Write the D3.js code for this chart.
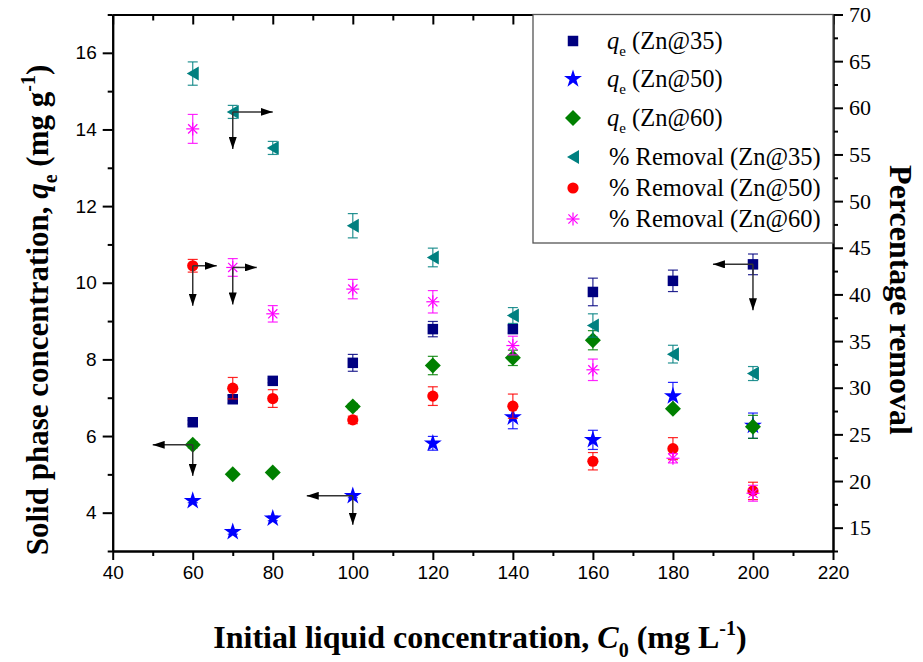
<!DOCTYPE html>
<html><head><meta charset="utf-8">
<script src="https://cdn.jsdelivr.net/npm/d3@7"></script>
<style>body{margin:0;background:#fff} .serif{font-family:'Liberation Serif','Times New Roman',serif} .sans{font-family:'Liberation Sans',Arial,sans-serif}</style>
</head><body>
<svg id="chart" width="923" height="662"></svg>
<script>
// ---------- data ----------
const concentrations = [60, 70, 80, 100, 120, 140, 160, 180, 200];
const qeZn35 = [6.36, 6.96, 7.44, 7.91, 8.79, 8.79, 9.76, 10.05, 10.48];
const qeZn35Err = [0.05, 0.1, 0.05, 0.22, 0.2, 0.1, 0.36, 0.28, 0.27];
const qeZn50 = [4.31, 3.50, 3.85, 4.44, 5.81, 6.49, 5.90, 7.04, 6.27];
const qeZn50Err = [0.05, 0.06, 0.06, 0.05, 0.18, 0.3, 0.25, 0.36, 0.33];
const qeZn60 = [5.77, 5.00, 5.05, 6.77, 7.84, 8.04, 8.50, 6.71, 6.24];
const qeZn60Err = [0.08, 0.03, 0.03, 0.08, 0.24, 0.2, 0.25, 0.05, 0.3];
const remZn35 = [63.67, 59.56, 55.7, 47.36, 43.96, 37.74, 36.67, 33.6, 31.52];
const remZn35Err = [1.25, 0.7, 0.7, 1.3, 1.0, 0.85, 1.25, 0.95, 0.75];
const remZn50 = [43.07, 29.95, 28.84, 26.55, 29.1, 28.02, 22.12, 23.47, 18.94];
const remZn50Err = [0.68, 1.15, 0.95, 0.4, 1.0, 1.3, 0.93, 1.18, 0.93];
const remZn60 = [57.74, 42.89, 37.92, 40.57, 39.21, 34.52, 31.92, 22.44, 18.69];
const remZn60Err = [1.55, 0.95, 0.88, 1.04, 1.2, 1.0, 1.15, 0.5, 0.85];

const xTicks = [40, 60, 80, 100, 120, 140, 160, 180, 200, 220];
const xMinorTicks = [50, 70, 90, 110, 130, 150, 170, 190, 210];
const leftTicks = [4, 6, 8, 10, 12, 14, 16];
const leftMinorTicks = [3, 5, 7, 9, 11, 13, 15, 17];
const rightTicks = [15, 20, 25, 30, 35, 40, 45, 50, 55, 60, 65, 70];
const rightMinorTicks = [12.5, 17.5, 22.5, 27.5, 32.5, 37.5, 42.5, 47.5, 52.5, 57.5, 62.5, 67.5];

// arrow annotations (series key, x value, horizontal reach in x units)
const arrowSeries = ['rem50', 'rem60', 'qe60', 'qe50', 'rem35', 'qe35'];
const arrowX = [60, 70, 60, 100, 70, 200];
const arrowReach = [6, 6, -10, -11.5, 10, -10];

// ---------- setup ----------
const svg = d3.select('#chart');
const L = 112.7, R = 833, T = 14.5, B = 551;
const x = d3.scaleLinear().domain([40, 220]).range([L, R]);
const yL = d3.scaleLinear().domain([3, 17]).range([B, T]);
const yR = d3.scaleLinear().domain([12.5, 70]).range([B, T]);
const arrowDrop = [40, 37, 31, 29, 37, 46];

const series = [
  {key: 'qe35', label: 'Zn@35', qe: true, vals: qeZn35, err: qeZn35Err, y: yL, color: '#000080', shape: 'square'},
  {key: 'qe50', label: 'Zn@50', qe: true, vals: qeZn50, err: qeZn50Err, y: yL, color: '#0000ff', shape: 'star'},
  {key: 'qe60', label: 'Zn@60', qe: true, vals: qeZn60, err: qeZn60Err, y: yL, color: '#008000', shape: 'diamond'},
  {key: 'rem35', label: 'Zn@35', qe: false, vals: remZn35, err: remZn35Err, y: yR, color: '#008080', shape: 'tri'},
  {key: 'rem50', label: 'Zn@50', qe: false, vals: remZn50, err: remZn50Err, y: yR, color: '#ff0000', shape: 'circle'},
  {key: 'rem60', label: 'Zn@60', qe: false, vals: remZn60, err: remZn60Err, y: yR, color: '#ff00ff', shape: 'asterisk'}
];

function drawSymbol(g, shape, color) {
  if (shape === 'square') g.append('path').attr('d', d3.symbol(d3.symbolSquare, 110)()).attr('fill', color);
  else if (shape === 'star') g.append('path').attr('d', d3.symbol(d3.symbolStar, 100)()).attr('fill', color);
  else if (shape === 'diamond') g.append('path').attr('d', 'M0,-8L8,0L0,8L-8,0Z').attr('fill', color);
  else if (shape === 'tri') g.append('path').attr('d', 'M-6,0L6,-7L6,7Z').attr('fill', color);
  else if (shape === 'circle') g.append('circle').attr('r', 5.6).attr('fill', color);
  else if (shape === 'asterisk') {
    const r = 6.5;
    [0, 45, 90, 135].forEach(a => {
      const c = Math.cos(a * Math.PI / 180) * r, s = Math.sin(a * Math.PI / 180) * r;
      g.append('line').attr('x1', -c).attr('y1', -s).attr('x2', c).attr('y2', s)
        .attr('stroke', color).attr('stroke-width', 1.2);
    });
  }
}

// ---------- axes ----------
function styleAxis(g) {
  g.attr('font-family', null);
  g.selectAll('path.domain').attr('stroke', '#000').attr('stroke-width', 2);
  g.selectAll('.tick line').attr('stroke', '#000').attr('stroke-width', 2);
}

// bottom
svg.append('g').attr('transform', `translate(0,${B})`)
  .call(d3.axisBottom(x).tickValues(xTicks).tickSize(9).tickSizeOuter(0).tickPadding(6).tickFormat(d3.format('d')))
  .call(styleAxis)
  .call(g => g.selectAll('text').attr('class', 'sans').attr('font-size', 19).attr('fill', '#000'));
svg.append('g').attr('transform', `translate(0,${B})`)
  .call(d3.axisBottom(x).tickValues(xMinorTicks).tickSize(5).tickSizeOuter(0).tickFormat(''))
  .call(styleAxis);
// top (inward)
svg.append('g').attr('transform', `translate(0,${T})`)
  .call(d3.axisBottom(x).tickValues(xTicks).tickSize(10).tickSizeOuter(0).tickFormat(''))
  .call(styleAxis);
svg.append('g').attr('transform', `translate(0,${T})`)
  .call(d3.axisBottom(x).tickValues(xMinorTicks).tickSize(6).tickSizeOuter(0).tickFormat(''))
  .call(styleAxis);
// left
svg.append('g').attr('transform', `translate(${L},0)`)
  .call(d3.axisLeft(yL).tickValues(leftTicks).tickSize(10).tickSizeOuter(0).tickPadding(6).tickFormat(d3.format('d')))
  .call(styleAxis)
  .call(g => g.selectAll('text').attr('class', 'sans').attr('font-size', 19).attr('fill', '#000'));
svg.append('g').attr('transform', `translate(${L},0)`)
  .call(d3.axisLeft(yL).tickValues(leftMinorTicks).tickSize(5).tickSizeOuter(0).tickFormat(''))
  .call(styleAxis);
// right
svg.append('g').attr('transform', `translate(${R},0)`)
  .call(d3.axisRight(yR).tickValues(rightTicks).tickSize(10).tickSizeOuter(0).tickPadding(6).tickFormat(d3.format('d')))
  .call(styleAxis)
  .call(g => g.selectAll('text').attr('class', 'serif').attr('font-size', 22).attr('fill', '#000'));
svg.append('g').attr('transform', `translate(${R},0)`)
  .call(d3.axisRight(yR).tickValues(rightMinorTicks).tickSize(5).tickSizeOuter(0).tickFormat(''))
  .call(styleAxis);

// ---------- legend box ----------
const legX0 = 533, legY0 = T, legX1 = R, legY1 = 243;
svg.append('rect').attr('x', legX0).attr('y', legY0).attr('width', legX1 - legX0).attr('height', legY1 - legY0)
  .attr('fill', '#fff').attr('stroke', '#555').attr('stroke-width', 1.3);

// ---------- data marks ----------
const marks = svg.append('g');
series.forEach(s => {
  const g = marks.append('g');
  concentrations.forEach((c, i) => {
    const cx = x(c), v = s.vals[i], e = s.err[i];
    const y1 = s.y(v - e), y2 = s.y(v + e);
    g.append('line').attr('x1', cx).attr('x2', cx).attr('y1', y1).attr('y2', y2)
      .attr('stroke', s.color).attr('stroke-width', 1.2).attr('opacity', 0.85);
    [y1, y2].forEach(yy => g.append('line').attr('x1', cx - 5).attr('x2', cx + 5).attr('y1', yy).attr('y2', yy)
      .attr('stroke', s.color).attr('stroke-width', 1.2).attr('opacity', 0.85));
  });
  concentrations.forEach((c, i) => {
    const sg = g.append('g').attr('transform', `translate(${x(c)},${s.y(s.vals[i])})`);
    drawSymbol(sg, s.shape, s.color);
  });
});

// ---------- arrows ----------
const defs = svg.append('defs');
defs.append('marker').attr('id', 'ah').attr('viewBox', '0 0 12 8').attr('refX', 12).attr('refY', 4)
  .attr('markerWidth', 12).attr('markerHeight', 8).attr('markerUnits', 'userSpaceOnUse').attr('orient', 'auto')
  .append('path').attr('d', 'M0,0L12,4L0,8Z').attr('fill', '#000');
const arrowG = svg.append('g');
arrowSeries.forEach((k, i) => {
  const s = series.find(d => d.key === k);
  const idx = concentrations.indexOf(arrowX[i]);
  const px = x(arrowX[i]), py = s.y(s.vals[idx]);
  const hx = x(arrowX[i] + arrowReach[i]);
  const vy = py + arrowDrop[i];
  arrowG.append('line').attr('x1', px).attr('y1', py).attr('x2', hx).attr('y2', py)
    .attr('stroke', '#333').attr('stroke-width', 1.5).attr('marker-end', 'url(#ah)');
  arrowG.append('line').attr('x1', px).attr('y1', py).attr('x2', px).attr('y2', vy)
    .attr('stroke', '#333').attr('stroke-width', 1.5).attr('marker-end', 'url(#ah)');
});

// ---------- legend entries ----------
const legRows = [41, 79, 118, 157, 188, 219];
series.forEach((s, i) => {
  const yy = legRows[i];
  const sg = svg.append('g').attr('transform', `translate(573,${yy})`);
  drawSymbol(sg, s.shape, s.color);
  const t = svg.append('text').attr('class', 'serif').attr('x', s.qe ? 607 : 609).attr('y', yy + 8)
    .attr('font-size', 24.5).attr('fill', '#000');
  if (s.qe) {
    t.append('tspan').attr('font-style', 'italic').text('q');
    t.append('tspan').attr('font-size', 15).attr('dy', 7).text('e');
    t.append('tspan').attr('dy', -7).text(' (' + s.label + ')');
  } else {
    t.text('% Removal (' + s.label + ')');
  }
});

// ---------- axis titles ----------
const xt = svg.append('text').attr('class', 'serif').attr('x', 480).attr('y', 648).attr('text-anchor', 'middle')
  .attr('font-weight', 'bold').attr('font-size', 32).attr('fill', '#000');
xt.append('tspan').text('Initial liquid concentration, ');
xt.append('tspan').attr('font-style', 'italic').text('C');
xt.append('tspan').attr('font-size', 20).attr('dy', 9).text('0');
xt.append('tspan').attr('dy', -9).text(' (mg L');
xt.append('tspan').attr('font-size', 20).attr('dy', -13).text('-1');
xt.append('tspan').attr('dy', 13).text(')');

const lt = svg.append('text').attr('class', 'serif').attr('transform', 'translate(48,310) rotate(-90)').attr('text-anchor', 'middle')
  .attr('font-weight', 'bold').attr('font-size', 31).attr('fill', '#000');
lt.append('tspan').text('Solid phase concentration, ');
lt.append('tspan').attr('font-style', 'italic').text('q');
lt.append('tspan').attr('font-size', 20).attr('dy', 9).text('e');
lt.append('tspan').attr('dy', -9).text(' (mg g');
lt.append('tspan').attr('font-size', 20).attr('dy', -13).text('-1');
lt.append('tspan').attr('dy', 13).text(')');

svg.append('text').attr('class', 'serif').attr('transform', 'translate(890,300) rotate(90)').attr('text-anchor', 'middle')
  .attr('font-weight', 'bold').attr('font-size', 32).attr('fill', '#000')
  .text('Percentage removal');
</script>
</body></html>
